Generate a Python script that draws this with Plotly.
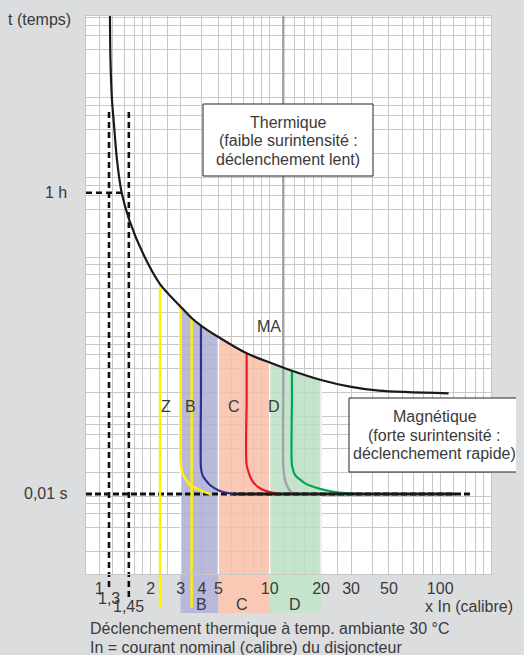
import numpy as np
import plotly.graph_objects as go

FONT = "Liberation Sans"
TXT = "#3a3a3a"
GRID = "#c8c8c8"
BG = "#dcdddf"
FS = 16

W, H = 524, 655
OFF = 8                              # page body margin of the html page
PL, PR, PT, PB = 86, 491, 16, 574    # plot area in window pixels

X_RANGE = [-0.078, 2.298]   # log10 of x In
Y_RANGE = [-1.28, 5.724]    # log10 of time (illustrative units)

# grid / ticks
x_grid = [1, 1.2, 1.4, 1.6, 1.8, 2, 2.5, 3, 4, 5, 6, 7, 8, 9, 10, 12, 14, 16, 18, 20,
          25, 30, 40, 50, 60, 70, 80, 90, 100, 120, 140, 160, 180, 200]
x_labelled = {1: "1", 2: "2", 3: "3", 4: "4", 5: "5", 10: "10", 20: "20", 30: "30",
              50: "50", 100: "100", 200: "200"}
y_grid = [0.1, 0.2, 0.3, 0.4, 0.5, 1, 2, 3, 4, 5, 10, 20, 30, 40, 50, 100, 200, 300, 400, 500,
          1e3, 2e3, 3e3, 4e3, 5e3, 1e4, 2e4, 3e4, 4e4, 5e4, 1e5, 2e5, 3e5, 4e5, 5e5]

# thermal tripping curve (x In, time)
thermal_x = [1.155, 1.163, 1.187, 1.22, 1.27, 1.353, 1.5, 1.811, 2.27, 3.0, 3.48, 3.95,
             5.0, 7.32, 10.0, 13.5, 20.0, 29.5, 43.6, 112]
thermal_t = [5.6e5, 1.48e5, 4.67e4, 2.27e4, 8250, 3205, 1456, 545, 229, 119, 85.7, 69,
             49.5, 30.9, 23.7, 18.7, 14.3, 11.8, 10.5, 9.73]

# magnetic curves
yellow_z_x = [3.0, 3.0, 3.0, 3.08, 3.40, 3.9, 4.45]
yellow_z_t = [119, 10, 1.415, 0.963, 0.687, 0.594, 0.53]
blue_b_x = [3.95, 3.95, 3.95, 4.05, 4.46, 5.1, 6.08]
blue_b_t = [69, 10, 1.12, 0.89, 0.687, 0.578, 0.53]
red_c_x = [7.32, 7.32, 7.32, 7.85, 8.7, 10.0, 11.5]
red_c_t = [30.9, 8, 1.22, 0.79, 0.63, 0.56, 0.53]
ma_x = [12.0, 12.0, 12.0, 12.3, 13.0, 13.8]
ma_t = [None, 10, 1.2, 0.79, 0.6, 0.53]        # first point = top of chart
green_d_x = [13.5, 13.5, 13.5, 14.1, 16.15, 20.2, 25.4, 33.9]
green_d_t = [18.7, 8, 1.22, 0.917, 0.72, 0.606, 0.553, 0.53]

# straight yellow limits (Z zone)
z_limits_x = [2.27, 3.48]
z_limits_top = [229, 85.7]

# conventional limits 1,3 / 1,45
limit_x = [1.14, 1.49]
limit_labels = ["1,3", "1,45"]
limit_top = 33000
limit_bottom_px = [587, 597]

# reference levels
t_1h = 3200
t_001s = 0.53
one_h_end_x = 1.35
instant_x = [6.08, 123]
dashed_end_x = 153

# bands
band_edges = [(3, 5), (5, 10), (10, 20)]
band_names = ["B", "C", "D"]
band_label_x = [3.98, 6.85, 14.1]
band_solid = ["#b9b8da", "#f9c9b6", "#c4e4cc"]
band_alpha = ["rgba(174,173,211,0.85)", "rgba(248,192,169,0.85)", "rgba(186,223,195,0.85)"]

curve_labels = ["Z", "B", "C", "D"]
curve_label_x = [2.46, 3.45, 6.15, 10.6]
curve_label_t = 6.6
ma_label = ("MA", 9.9, 68)

YELLOW = "#fff200"
BLUE = "#2e3192"
RED = "#ed1c24"
GREEN = "#00a651"
MAGRAY = "#a3a3a5"

ybot = 10 ** (Y_RANGE[0] - 0.1)
ytop = 10 ** (Y_RANGE[1] + 0.1)


def py2paper(py):
    return (PB - py) / (PB - PT)


def px2paper(px):
    return (px - PL) / (PR - PL)


fig = go.Figure()


def line(x, y, color, width, dash=None, shape="linear", smoothing=1.0):
    fig.add_trace(go.Scatter(x=x, y=y, mode="lines",
                             line=dict(color=color, width=width, dash=dash, shape=shape,
                                       smoothing=smoothing),
                             hoverinfo="skip", showlegend=False))


# bands under the thermal curve
for (a, b), fc in zip(band_edges, band_alpha):
    xs = [x for x in thermal_x if a <= x <= b]
    ys = [t for x, t in zip(thermal_x, thermal_t) if a <= x <= b]
    fig.add_trace(go.Scatter(x=xs + [b, a, a], y=ys + [ybot, ybot, ys[0]], mode="lines",
                             fill="toself", fillcolor=fc,
                             line=dict(color="white", width=1.3),
                             hoverinfo="skip", showlegend=False))

# dashed conventional limits
for lx in limit_x:
    line([lx, lx], [limit_top, ybot], "#111111", 2.6, dash="6px,4px")
line([10 ** X_RANGE[0], one_h_end_x], [t_1h, t_1h], "#111111", 2.6, dash="6px,4px")
line([10 ** X_RANGE[0], dashed_end_x], [t_001s, t_001s], "#111111", 2.8, dash="6px,3px")

# yellow straight limits
for zx, zt in zip(z_limits_x, z_limits_top):
    line([zx, zx], [zt, ybot], YELLOW, 2.4)

# magnetic curves
line(yellow_z_x, yellow_z_t, YELLOW, 2.4, shape="spline", smoothing=0.6)
line(blue_b_x, blue_b_t, BLUE, 2.2, shape="spline", smoothing=0.6)
line(red_c_x, red_c_t, RED, 2.2, shape="spline", smoothing=0.6)
line(ma_x, [ytop] + ma_t[1:], MAGRAY, 2.4, shape="spline", smoothing=0.6)
line(green_d_x, green_d_t, GREEN, 2.2, shape="spline", smoothing=0.6)

# instantaneous line and thermal curve
line(instant_x, [t_001s, t_001s], "#1a1a1a", 2.8)
line(thermal_x, thermal_t, "#1a1a1a", 2.2, shape="spline", smoothing=0.8)

shapes = []
# band extensions below the plot
for (a, b), fc in zip(band_edges, band_solid):
    shapes.append(dict(type="rect", xref="x", yref="paper", x0=a, x1=b,
                       y0=py2paper(613), y1=0, fillcolor=fc, line=dict(width=0), layer="below"))
for zx in z_limits_x:
    shapes.append(dict(type="line", xref="x", yref="paper", x0=zx, x1=zx,
                       y0=py2paper(608), y1=0, line=dict(color=YELLOW, width=2.4), layer="below"))
for lx, bp in zip(limit_x, limit_bottom_px):
    shapes.append(dict(type="line", xref="x", yref="paper", x0=lx, x1=lx,
                       y0=py2paper(bp), y1=0, line=dict(color="#111111", width=2.6, dash="6px,4px"),
                       layer="below"))
# text boxes
shapes.append(dict(type="rect", xref="paper", yref="paper", x0=px2paper(203), x1=px2paper(373),
                   y0=py2paper(176), y1=py2paper(104), fillcolor="white",
                   line=dict(color="#222222", width=1), layer="above"))
shapes.append(dict(type="rect", xref="paper", yref="paper", x0=px2paper(349), x1=px2paper(520),
                   y0=py2paper(472), y1=py2paper(398), fillcolor="white",
                   line=dict(color="#222222", width=1), layer="above"))

ann = []


def text(t, x, y, xref="paper", yref="paper", xanchor="center", size=FS):
    ann.append(dict(text=t, x=x, y=y, xref=xref, yref=yref, xanchor=xanchor, yanchor="middle",
                    showarrow=False, font=dict(family=FONT, size=size, color=TXT)))


for i, s in enumerate(["Thermique", "(faible surintensité :", "déclenchement lent)"]):
    text(s, px2paper(288), py2paper(123 + 18 * i))
for i, s in enumerate(["Magnétique", "(forte surintensité :", "déclenchement rapide)"]):
    text(s, px2paper(434.5), py2paper(416.5 + 18.5 * i))

for lbl, lx in zip(curve_labels, curve_label_x):
    text(lbl, np.log10(lx), np.log10(curve_label_t), xref="x", yref="y")
text(ma_label[0], np.log10(ma_label[1]), np.log10(ma_label[2]), xref="x", yref="y")

for lbl, lx in zip(band_names, band_label_x):
    text(lbl, np.log10(lx), py2paper(604), xref="x")
for lbl, lx, yy in zip(limit_labels, limit_x, [598, 606.5]):
    text(lbl, np.log10(lx), py2paper(yy), xref="x")

text("t (temps)", px2paper(39.5), py2paper(20))
text("1 h", px2paper(69), np.log10(t_1h), yref="y", xanchor="right")
text("0,01 s", px2paper(70), np.log10(t_001s), yref="y", xanchor="right")
text("x In (calibre)", px2paper(469), py2paper(606.5))
text("Déclenchement thermique à temp. ambiante 30 °C", px2paper(88), py2paper(628), xanchor="left")
text("In = courant nominal (calibre) du disjoncteur", px2paper(88), py2paper(647.5), xanchor="left")

fig.update_layout(
    width=W - OFF, height=H - OFF,
    margin=dict(l=PL - OFF, r=W - PR, t=PT - OFF, b=H - PB, pad=0),
    paper_bgcolor=BG, plot_bgcolor="white",
    shapes=shapes, annotations=ann,
    font=dict(family=FONT, size=FS, color=TXT),
    xaxis=dict(type="log", range=X_RANGE, tickvals=x_grid,
               ticktext=[x_labelled.get(v, "") for v in x_grid],
               showgrid=True, gridcolor=GRID, gridwidth=1, zeroline=False,
               showline=True, linecolor=GRID, mirror=True, ticks="",
               tickfont=dict(family=FONT, size=FS, color=TXT), fixedrange=True),
    yaxis=dict(type="log", range=Y_RANGE, tickvals=y_grid, showticklabels=False,
               showgrid=True, gridcolor=GRID, gridwidth=1, zeroline=False,
               showline=True, linecolor=GRID, mirror=True, ticks="", fixedrange=True),
    showlegend=False,
)

fig.write_html("out.html", post_script="document.body.style.background='" + BG + "';")
